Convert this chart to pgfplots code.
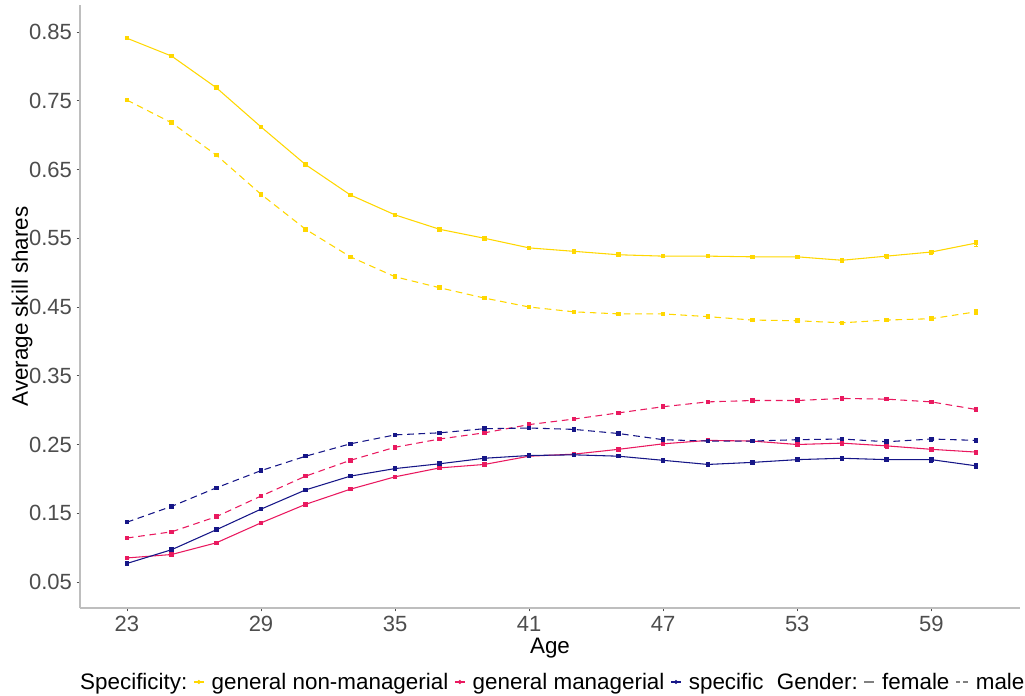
\documentclass[border=0pt]{standalone}
\usepackage{pgfplots}
\pgfplotsset{compat=1.18}
\usepackage{pgfplotstable}
\usepackage{fontspec}
\setmainfont{Liberation Sans}
\definecolor{cyel}{RGB}{255,215,0}
\definecolor{cpink}{RGB}{233,25,95}
\definecolor{cnavy}{RGB}{22,22,135}
\definecolor{axgray}{RGB}{190,190,190}
\definecolor{tickgray}{RGB}{77,77,77}
\pgfplotstableread{
age yf ef ym em
23 0.841 0.001 0.751 0.001
25 0.815 0.001 0.718 0.001
27 0.769 0.001 0.671 0.001
29 0.712 0.001 0.614 0.001
31 0.657 0.001 0.563 0.001
33 0.613 0.001 0.523 0.001
35 0.584 0.001 0.494 0.001
37 0.563 0.001 0.478 0.001
39 0.550 0.001 0.463 0.001
41 0.536 0.001 0.450 0.001
43 0.531 0.001 0.443 0.001
45 0.526 0.002 0.440 0.001
47 0.524 0.002 0.440 0.001
49 0.524 0.002 0.436 0.002
51 0.523 0.002 0.431 0.002
53 0.523 0.002 0.430 0.002
55 0.518 0.002 0.427 0.002
57 0.524 0.003 0.431 0.002
59 0.530 0.003 0.433 0.002
61 0.543 0.004 0.443 0.003
}\yel
\pgfplotstableread{
age yf ef ym em
23 0.085 0.001 0.114 0.001
25 0.090 0.001 0.123 0.001
27 0.107 0.001 0.145 0.001
29 0.136 0.001 0.175 0.001
31 0.163 0.001 0.204 0.001
33 0.185 0.001 0.227 0.001
35 0.203 0.001 0.246 0.001
37 0.216 0.001 0.258 0.001
39 0.221 0.001 0.267 0.001
41 0.233 0.001 0.279 0.001
43 0.236 0.002 0.287 0.001
45 0.243 0.002 0.296 0.001
47 0.251 0.002 0.305 0.002
49 0.256 0.002 0.312 0.002
51 0.255 0.002 0.314 0.002
53 0.250 0.003 0.314 0.002
55 0.252 0.003 0.317 0.002
57 0.248 0.003 0.316 0.002
59 0.243 0.003 0.312 0.002
61 0.239 0.003 0.301 0.003
}\pnk
\pgfplotstableread{
age yf ef ym em
23 0.077 0.001 0.137 0.001
25 0.097 0.001 0.160 0.001
27 0.126 0.001 0.187 0.001
29 0.156 0.001 0.212 0.001
31 0.184 0.001 0.233 0.001
33 0.204 0.001 0.251 0.001
35 0.215 0.001 0.264 0.001
37 0.222 0.001 0.267 0.001
39 0.230 0.001 0.273 0.001
41 0.234 0.002 0.274 0.001
43 0.235 0.002 0.272 0.001
45 0.233 0.002 0.266 0.002
47 0.227 0.002 0.257 0.002
49 0.221 0.002 0.255 0.002
51 0.224 0.003 0.255 0.002
53 0.228 0.003 0.257 0.002
55 0.230 0.003 0.258 0.002
57 0.228 0.003 0.254 0.002
59 0.228 0.004 0.258 0.003
61 0.219 0.004 0.256 0.003
}\nav
\tikzset{mk/.style={mark=square*, mark size=1.3pt},
  dsh/.style={dash pattern=on 5pt off 3.5pt, mark options={solid}}}
\pgfplotsset{
  eb/.style={error bars/.cd, y dir=both, y explicit, error mark options={rotate=90, mark size=1.5pt}},
  legdot/.style={legend image code/.code={\draw[##1] (0pt,0pt)--(7.5pt,0pt); \fill[##1] (3.75pt,0pt) circle (1.1pt);}},
  legline/.style={legend image code/.code={\draw[##1] (0pt,0pt)--(7.5pt,0pt);}},
  legdash/.style={legend image code/.code={\draw[##1] (0pt,0pt)--(3pt,0pt) (5.5pt,0pt)--(9pt,0pt);}}
}
\begin{document}
\begin{tikzpicture}
\useasboundingbox (-60pt,-66pt) rectangle (708.75pt,456pt);
\begin{axis}[
  anchor=south west, at={(0,0)},
  scale only axis, width=705pt, height=452.25pt,
  xmin=20.9, xmax=62.97, ymin=0.0122, ymax=0.8893,
  axis x line*=bottom, axis y line*=left,
  axis line style={draw=axgray, line width=0.8pt, -},
  xtick={23,29,35,41,47,53,59},
  ytick={0.05,0.15,0.25,0.35,0.45,0.55,0.65,0.75,0.85},
  yticklabels={0.05,0.15,0.25,0.35,0.45,0.55,0.65,0.75,0.85},
  tick align=outside, major tick length=2.5pt,
  tick style={draw=tickgray, line width=0.6pt},
  tick label style={font=\fontsize{16.5}{19}\selectfont, text=tickgray},
  /pgf/number format/assume math mode=true,
  xlabel={Age}, ylabel={Average skill shares},
  label style={font=\fontsize{16.8}{19}\selectfont, text=black},
  xlabel style={at={(axis description cs:0.5,0)}, anchor=north, yshift=-19pt},
  ylabel style={at={(axis description cs:0,0.5)}, anchor=south, yshift=32pt},
  every axis plot/.append style={line width=0.8pt},
  legend columns=-1,
  legend style={at={(axis description cs:0.5,-0.1227)}, anchor=center, draw=none, fill=none,
    font=\fontsize{16.8}{19}\selectfont, inner sep=0pt,
    /tikz/every even column/.append style={column sep=2.5pt},
    /tikz/every odd column/.append style={column sep=3.5pt}},
  legend cell align=left,
]
\addlegendimage{empty legend}\addlegendentry{Specificity:}
\addlegendimage{cyel, line width=0.8pt, legdot}\addlegendentry{general non-managerial}
\addlegendimage{cpink, line width=0.8pt, legdot}\addlegendentry{general managerial}
\addlegendimage{cnavy, line width=0.8pt, legdot}\addlegendentry{specific\hspace{10pt}Gender:}
\addlegendimage{gray, line width=0.8pt, legline}\addlegendentry{female}
\addlegendimage{gray, line width=0.8pt, legdash}\addlegendentry{male}

\pgfplotsset{every axis plot/.append style={forget plot}}
\addplot[cyel, mk, eb] table[x=age, y=yf, y error=ef]{\yel};
\addplot[cyel, mk, dsh, eb] table[x=age, y=ym, y error=em]{\yel};
\addplot[cpink, mk, eb] table[x=age, y=yf, y error=ef]{\pnk};
\addplot[cpink, mk, dsh, eb] table[x=age, y=ym, y error=em]{\pnk};
\addplot[cnavy, mk, eb] table[x=age, y=yf, y error=ef]{\nav};
\addplot[cnavy, mk, dsh, eb] table[x=age, y=ym, y error=em]{\nav};
\end{axis}
\end{tikzpicture}
\end{document}
